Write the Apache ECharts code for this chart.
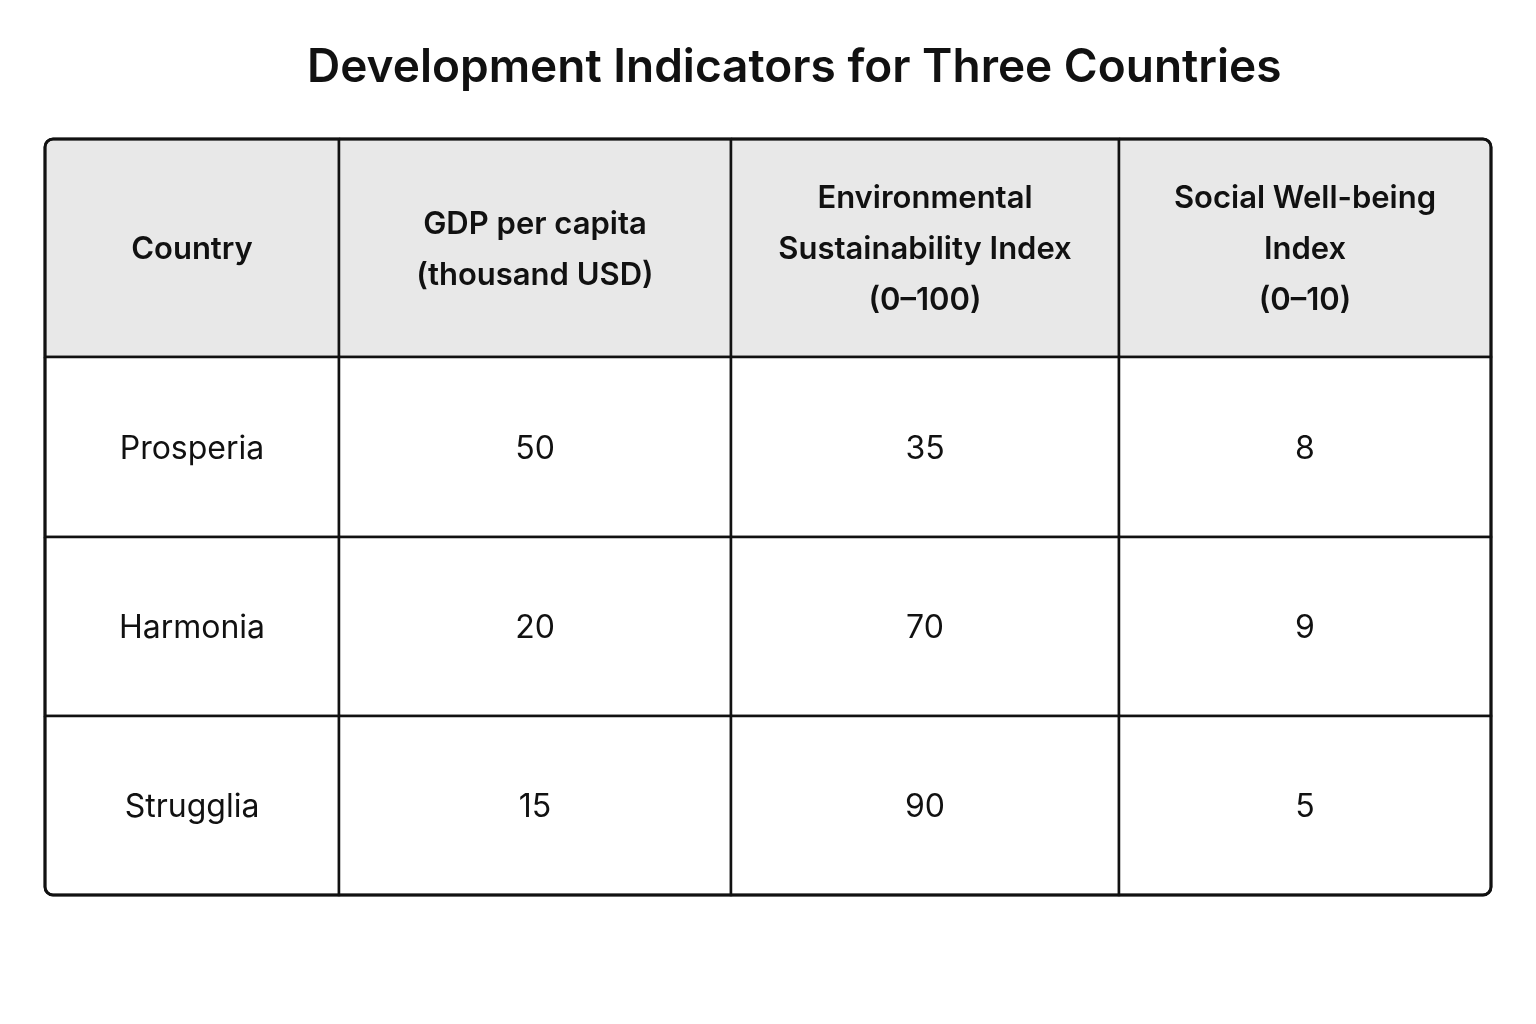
<!DOCTYPE html>
<html>
<head>
<meta charset="utf-8">
<script src="https://cdn.jsdelivr.net/npm/echarts@6/dist/echarts.min.js"></script>
<style>
  html, body { margin: 0; padding: 0; background: #fff; }
  #chart { width: 1536px; height: 1024px; }
</style>
</head>
<body>
<div id="chart"></div>
<script>
// ── Table data ──────────────────────────────────────────────
const headers = [
  'Country',
  'GDP per capita\n(thousand USD)',
  'Environmental\nSustainability Index\n(0–100)',
  'Social Well-being\nIndex\n(0–10)',
];
const countries = ['Prosperia', 'Harmonia', 'Strugglia'];
const gdp       = [50, 20, 15];
const envIndex  = [35, 70, 90];
const social    = [8, 9, 5];

// Layout: relative column widths / row heights (table units)
const colWidths  = [294, 392, 388, 372];
const rowHeights = [218, 180, 179, 179];

const FONT = 'Inter, "Noto Sans", "DejaVu Sans", sans-serif';
const INK = '#111';
const HEADER_BG = '#e8e8e8';
const RADIUS = 8;

function edges(sizes) {
  const out = [0];
  sizes.forEach(s => out.push(out[out.length - 1] + s));
  return out;
}
const colEdges = edges(colWidths);
const rowEdges = edges(rowHeights);
const totalW = colEdges[colEdges.length - 1];
const totalH = rowEdges[rowEdges.length - 1];

// Build cells: [col, row, text]
const cells = [];
headers.forEach((h, c) => cells.push([c, 0, h]));
countries.forEach((name, i) => {
  const r = i + 1;
  cells.push([0, r, name]);
  cells.push([1, r, String(gdp[i])]);
  cells.push([2, r, String(envIndex[i])]);
  cells.push([3, r, String(social[i])]);
});

const nCols = colWidths.length, nRows = rowHeights.length;

function cellRadius(c, r) {
  const tl = c === 0 && r === 0 ? RADIUS : 0;
  const tr = c === nCols - 1 && r === 0 ? RADIUS : 0;
  const br = c === nCols - 1 && r === nRows - 1 ? RADIUS : 0;
  const bl = c === 0 && r === nRows - 1 ? RADIUS : 0;
  return [tl, tr, br, bl];
}

function renderCell(params, api) {
  const c = api.value(0), r = api.value(1);
  const text = cells[params.dataIndex][2];
  const p0 = api.coord([colEdges[c], rowEdges[r]]);
  const p1 = api.coord([colEdges[c + 1], rowEdges[r + 1]]);
  const x = Math.min(p0[0], p1[0]), y = Math.min(p0[1], p1[1]);
  const w = Math.abs(p1[0] - p0[0]), h = Math.abs(p1[1] - p0[1]);
  const isHead = r === 0;
  return {
    type: 'group',
    children: [
      {
        type: 'rect',
        shape: { x, y, width: w, height: h, r: cellRadius(c, r) },
        style: { fill: isHead ? HEADER_BG : '#fff', stroke: INK, lineWidth: 2.5 },
      },
      {
        type: 'text',
        x: x + w / 2,
        y: y + h / 2 + 2,
        style: {
          text,
          fill: INK,
          font: (isHead ? '600 31px ' : '400 32px ') + FONT,
          align: 'center',
          verticalAlign: 'middle',
          lineHeight: 51,
        },
      },
    ],
  };
}

function renderFrame(params, api) {
  const p0 = api.coord([0, 0]);
  const p1 = api.coord([totalW, totalH]);
  return {
    type: 'rect',
    shape: {
      x: Math.min(p0[0], p1[0]), y: Math.min(p0[1], p1[1]),
      width: Math.abs(p1[0] - p0[0]), height: Math.abs(p1[1] - p0[1]), r: RADIUS,
    },
    style: { fill: 'none', stroke: INK, lineWidth: 3 },
  };
}

const chart = echarts.init(document.getElementById('chart'), null, { renderer: 'canvas' });
chart.setOption({
  animation: false,
  backgroundColor: '#fff',
  title: {
    text: 'Development Indicators for Three Countries',
    left: 302,
    top: 40,
    textStyle: { fontFamily: FONT, fontSize: 46, fontWeight: 600, color: INK },
  },
  grid: { left: 45, right: 45, top: 139, bottom: 129 },
  xAxis: { type: 'value', min: 0, max: totalW, show: false },
  yAxis: { type: 'value', min: 0, max: totalH, inverse: true, show: false },
  series: [
    {
      type: 'custom',
      renderItem: renderCell,
      data: cells.map(d => [d[0], d[1]]),
      clip: false,
      silent: true,
    },
    {
      type: 'custom',
      renderItem: renderFrame,
      data: [[0, 0]],
      clip: false,
      silent: true,
      z: 3,
    },
  ],
});
</script>
</body>
</html>
